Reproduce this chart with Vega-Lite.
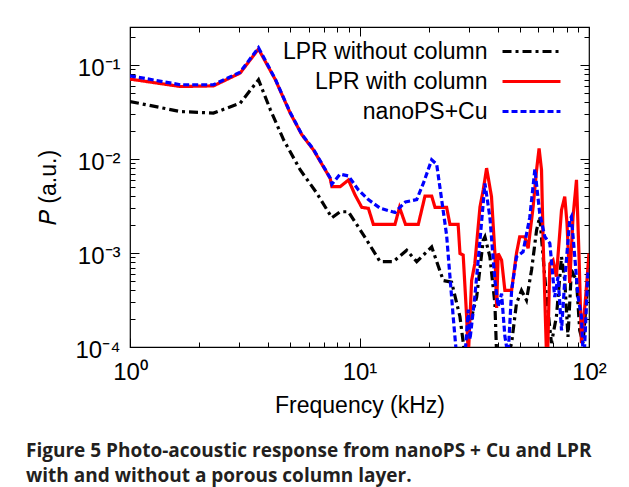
{
  "$schema": "https://vega.github.io/schema/vega-lite/v6.json",
  "width": 459,
  "height": 320,
  "autosize": {"type": "none"},
  "padding": {"left": 130, "top": 27, "right": 40, "bottom": 140},
  "background": "white",
  "config": {
    "view": {"stroke": "#000", "strokeWidth": 1.2},
    "font": "Liberation Sans",
    "legend": {
      "orient": "none",
      "legendX": 390,
      "legendY": 13,
      "title": null,
      "padding": 0,
      "symbolType": "M-4,0H4",
      "symbolSize": 210,
      "symbolStrokeWidth": 3,
      "labelAlign": "right",
      "labelOffset": -55.5,
      "labelFontSize": 23,
      "labelFont": "Liberation Sans",
      "labelColor": "#000",
      "labelLimit": 400,
      "rowPadding": 6
    }
  },
  "title": {
    "text": ["Figure 5 Photo-acoustic response from nanoPS + Cu and LPR", "with and without a porous column layer."],
    "orient": "bottom",
    "anchor": "start",
    "frame": "group",
    "dx": -104,
    "offset": 25,
    "font": "Open Sans",
    "fontSize": 19,
    "fontWeight": "bold",
    "color": "#231f20",
    "lineHeight": 25
  },
  "data": {
    "values": [
      {"s": "LPR without column", "f": 1.0, "p": 0.0409},
      {"s": "LPR without column", "f": 1.66, "p": 0.032},
      {"s": "LPR without column", "f": 2.31, "p": 0.0308},
      {"s": "LPR without column", "f": 3.02, "p": 0.0393},
      {"s": "LPR without column", "f": 3.63, "p": 0.0697},
      {"s": "LPR without column", "f": 4.09, "p": 0.0334},
      {"s": "LPR without column", "f": 4.67, "p": 0.016},
      {"s": "LPR without column", "f": 5.52, "p": 0.00765},
      {"s": "LPR without column", "f": 6.52, "p": 0.00432},
      {"s": "LPR without column", "f": 7.58, "p": 0.00237},
      {"s": "LPR without column", "f": 8.23, "p": 0.00275},
      {"s": "LPR without column", "f": 8.95, "p": 0.00275},
      {"s": "LPR without column", "f": 10.76, "p": 0.00137},
      {"s": "LPR without column", "f": 12.29, "p": 0.00081},
      {"s": "LPR without column", "f": 14.05, "p": 0.00081},
      {"s": "LPR without column", "f": 16.06, "p": 0.00107},
      {"s": "LPR without column", "f": 17.75, "p": 0.00081},
      {"s": "LPR without column", "f": 20.63, "p": 0.00116},
      {"s": "LPR without column", "f": 23.17, "p": 0.00051},
      {"s": "LPR without column", "f": 25.2, "p": 0.00049},
      {"s": "LPR without column", "f": 27.4, "p": 0.00021},
      {"s": "LPR without column", "f": 28.8, "p": 0.00008},
      {"s": "LPR without column", "f": 30.8, "p": 0.00021},
      {"s": "LPR without column", "f": 32.4, "p": 0.00034},
      {"s": "LPR without column", "f": 34.6, "p": 0.00137},
      {"s": "LPR without column", "f": 35.2, "p": 0.00149},
      {"s": "LPR without column", "f": 37.0, "p": 0.00091},
      {"s": "LPR without column", "f": 38.9, "p": 0.00029},
      {"s": "LPR without column", "f": 39.6, "p": 0.00008},
      {"s": "LPR without column", "f": 44.4, "p": 0.00008},
      {"s": "LPR without column", "f": 46.0, "p": 0.00011},
      {"s": "LPR without column", "f": 48.3, "p": 0.00029},
      {"s": "LPR without column", "f": 50.8, "p": 0.0004},
      {"s": "LPR without column", "f": 53.4, "p": 0.000315},
      {"s": "LPR without column", "f": 56.2, "p": 0.00066},
      {"s": "LPR without column", "f": 59.1, "p": 0.00175},
      {"s": "LPR without column", "f": 61.0, "p": 0.00243},
      {"s": "LPR without column", "f": 63.1, "p": 0.00091},
      {"s": "LPR without column", "f": 65.3, "p": 0.00034},
      {"s": "LPR without column", "f": 68.6, "p": 0.00011},
      {"s": "LPR without column", "f": 72.1, "p": 0.00021},
      {"s": "LPR without column", "f": 75.9, "p": 0.00091},
      {"s": "LPR without column", "f": 78.4, "p": 0.00051},
      {"s": "LPR without column", "f": 81.0, "p": 0.000128},
      {"s": "LPR without column", "f": 83.8, "p": 0.00066},
      {"s": "LPR without column", "f": 88.2, "p": 0.00051},
      {"s": "LPR without column", "f": 91.1, "p": 0.00015},
      {"s": "LPR without column", "f": 94.2, "p": 0.00011},
      {"s": "LPR without column", "f": 99.0, "p": 0.00051},
      {"s": "LPR without column", "f": 100, "p": 0.0005},

      {"s": "LPR with column", "f": 1.0, "p": 0.0709},
      {"s": "LPR with column", "f": 1.66, "p": 0.0591},
      {"s": "LPR with column", "f": 2.31, "p": 0.06},
      {"s": "LPR with column", "f": 3.02, "p": 0.0822},
      {"s": "LPR with column", "f": 3.63, "p": 0.148},
      {"s": "LPR with column", "f": 4.3, "p": 0.0697},
      {"s": "LPR with column", "f": 4.99, "p": 0.0308},
      {"s": "LPR with column", "f": 5.61, "p": 0.0181},
      {"s": "LPR with column", "f": 6.3, "p": 0.0125},
      {"s": "LPR with column", "f": 7.45, "p": 0.00624},
      {"s": "LPR with column", "f": 7.58, "p": 0.00508},
      {"s": "LPR with column", "f": 8.23, "p": 0.00508},
      {"s": "LPR with column", "f": 8.95, "p": 0.00599},
      {"s": "LPR with column", "f": 9.57, "p": 0.00414},
      {"s": "LPR with column", "f": 10.23, "p": 0.00306},
      {"s": "LPR with column", "f": 10.93, "p": 0.00299},
      {"s": "LPR with column", "f": 11.49, "p": 0.00202},
      {"s": "LPR with column", "f": 14.28, "p": 0.00202},
      {"s": "LPR with column", "f": 14.94, "p": 0.00306},
      {"s": "LPR with column", "f": 15.86, "p": 0.00202},
      {"s": "LPR with column", "f": 18.04, "p": 0.00202},
      {"s": "LPR with column", "f": 19.29, "p": 0.00404},
      {"s": "LPR with column", "f": 20.63, "p": 0.00404},
      {"s": "LPR with column", "f": 21.33, "p": 0.00306},
      {"s": "LPR with column", "f": 23.97, "p": 0.00306},
      {"s": "LPR with column", "f": 24.78, "p": 0.00202},
      {"s": "LPR with column", "f": 26.9, "p": 0.00202},
      {"s": "LPR with column", "f": 27.4, "p": 0.00099},
      {"s": "LPR with column", "f": 28.3, "p": 0.00095},
      {"s": "LPR with column", "f": 29.3, "p": 0.00021},
      {"s": "LPR with column", "f": 29.8, "p": 0.00008},
      {"s": "LPR with column", "f": 30.8, "p": 0.00051},
      {"s": "LPR with column", "f": 31.8, "p": 0.00077},
      {"s": "LPR with column", "f": 33.5, "p": 0.0031},
      {"s": "LPR with column", "f": 34.6, "p": 0.00468},
      {"s": "LPR with column", "f": 35.8, "p": 0.008},
      {"s": "LPR with column", "f": 37.6, "p": 0.00397},
      {"s": "LPR with column", "f": 38.9, "p": 0.00099},
      {"s": "LPR with column", "f": 39.6, "p": 0.00026},
      {"s": "LPR with column", "f": 40.2, "p": 0.00099},
      {"s": "LPR with column", "f": 41.6, "p": 0.00084},
      {"s": "LPR with column", "f": 43.0, "p": 0.0004},
      {"s": "LPR with column", "f": 46.0, "p": 0.0004},
      {"s": "LPR with column", "f": 48.3, "p": 0.00099},
      {"s": "LPR with column", "f": 49.9, "p": 0.00149},
      {"s": "LPR with column", "f": 52.5, "p": 0.00149},
      {"s": "LPR with column", "f": 54.3, "p": 0.00112},
      {"s": "LPR with column", "f": 57.1, "p": 0.00311},
      {"s": "LPR with column", "f": 59.1, "p": 0.00765},
      {"s": "LPR with column", "f": 60.6, "p": 0.013},
      {"s": "LPR with column", "f": 62.1, "p": 0.00765},
      {"s": "LPR with column", "f": 63.1, "p": 0.00137},
      {"s": "LPR with column", "f": 65.3, "p": 0.00008},
      {"s": "LPR with column", "f": 66.0, "p": 0.00008},
      {"s": "LPR with column", "f": 67.5, "p": 0.00077},
      {"s": "LPR with column", "f": 69.7, "p": 0.00084},
      {"s": "LPR with column", "f": 72.1, "p": 0.00056},
      {"s": "LPR with column", "f": 75.9, "p": 0.00287},
      {"s": "LPR with column", "f": 78.4, "p": 0.00397},
      {"s": "LPR with column", "f": 80.2, "p": 0.00207},
      {"s": "LPR with column", "f": 82.4, "p": 0.00048},
      {"s": "LPR with column", "f": 85.2, "p": 0.00243},
      {"s": "LPR with column", "f": 88.2, "p": 0.006},
      {"s": "LPR with column", "f": 90.5, "p": 0.00091},
      {"s": "LPR with column", "f": 92.7, "p": 0.00011},
      {"s": "LPR with column", "f": 96.7, "p": 0.00034},
      {"s": "LPR with column", "f": 100, "p": 0.00099},

      {"s": "nanoPS+Cu", "f": 1.0, "p": 0.0769},
      {"s": "nanoPS+Cu", "f": 1.66, "p": 0.0617},
      {"s": "nanoPS+Cu", "f": 2.31, "p": 0.0617},
      {"s": "nanoPS+Cu", "f": 3.02, "p": 0.084},
      {"s": "nanoPS+Cu", "f": 3.63, "p": 0.153},
      {"s": "nanoPS+Cu", "f": 4.3, "p": 0.0705},
      {"s": "nanoPS+Cu", "f": 4.99, "p": 0.0312},
      {"s": "nanoPS+Cu", "f": 5.61, "p": 0.0183},
      {"s": "nanoPS+Cu", "f": 6.3, "p": 0.0127},
      {"s": "nanoPS+Cu", "f": 7.45, "p": 0.0063},
      {"s": "nanoPS+Cu", "f": 7.58, "p": 0.0054},
      {"s": "nanoPS+Cu", "f": 8.23, "p": 0.0069},
      {"s": "nanoPS+Cu", "f": 8.95, "p": 0.0066},
      {"s": "nanoPS+Cu", "f": 9.89, "p": 0.0047},
      {"s": "nanoPS+Cu", "f": 10.93, "p": 0.0037},
      {"s": "nanoPS+Cu", "f": 12.29, "p": 0.003},
      {"s": "nanoPS+Cu", "f": 14.28, "p": 0.0027},
      {"s": "nanoPS+Cu", "f": 15.86, "p": 0.0035},
      {"s": "nanoPS+Cu", "f": 17.75, "p": 0.0037},
      {"s": "nanoPS+Cu", "f": 18.97, "p": 0.0055},
      {"s": "nanoPS+Cu", "f": 20.63, "p": 0.0098},
      {"s": "nanoPS+Cu", "f": 21.69, "p": 0.0088},
      {"s": "nanoPS+Cu", "f": 22.8, "p": 0.0037},
      {"s": "nanoPS+Cu", "f": 23.97, "p": 0.00154},
      {"s": "nanoPS+Cu", "f": 25.6, "p": 0.00021},
      {"s": "nanoPS+Cu", "f": 26.5, "p": 0.00008},
      {"s": "nanoPS+Cu", "f": 28.8, "p": 0.00008},
      {"s": "nanoPS+Cu", "f": 29.8, "p": 0.00025},
      {"s": "nanoPS+Cu", "f": 30.3, "p": 0.00012},
      {"s": "nanoPS+Cu", "f": 31.8, "p": 0.00034},
      {"s": "nanoPS+Cu", "f": 33.5, "p": 0.00137},
      {"s": "nanoPS+Cu", "f": 35.2, "p": 0.0055},
      {"s": "nanoPS+Cu", "f": 37.0, "p": 0.0024},
      {"s": "nanoPS+Cu", "f": 38.9, "p": 0.00051},
      {"s": "nanoPS+Cu", "f": 40.2, "p": 0.00027},
      {"s": "nanoPS+Cu", "f": 41.6, "p": 0.00037},
      {"s": "nanoPS+Cu", "f": 43.0, "p": 0.00013},
      {"s": "nanoPS+Cu", "f": 44.4, "p": 0.00008},
      {"s": "nanoPS+Cu", "f": 46.0, "p": 0.0004},
      {"s": "nanoPS+Cu", "f": 48.3, "p": 0.00091},
      {"s": "nanoPS+Cu", "f": 51.6, "p": 0.00103},
      {"s": "nanoPS+Cu", "f": 55.2, "p": 0.0024},
      {"s": "nanoPS+Cu", "f": 58.1, "p": 0.0078},
      {"s": "nanoPS+Cu", "f": 61.0, "p": 0.00264},
      {"s": "nanoPS+Cu", "f": 64.2, "p": 0.00149},
      {"s": "nanoPS+Cu", "f": 67.5, "p": 0.00127},
      {"s": "nanoPS+Cu", "f": 70.9, "p": 0.00034},
      {"s": "nanoPS+Cu", "f": 73.3, "p": 0.00056},
      {"s": "nanoPS+Cu", "f": 75.9, "p": 0.00015},
      {"s": "nanoPS+Cu", "f": 78.4, "p": 0.00051},
      {"s": "nanoPS+Cu", "f": 82.4, "p": 0.00224},
      {"s": "nanoPS+Cu", "f": 83.8, "p": 0.00243},
      {"s": "nanoPS+Cu", "f": 86.7, "p": 0.00091},
      {"s": "nanoPS+Cu", "f": 89.6, "p": 0.00034},
      {"s": "nanoPS+Cu", "f": 92.7, "p": 0.00021},
      {"s": "nanoPS+Cu", "f": 94.8, "p": 0.00006},
      {"s": "nanoPS+Cu", "f": 99.0, "p": 0.00066},
      {"s": "nanoPS+Cu", "f": 100, "p": 0.00066}
    ]
  },
  "layer": [
    {
      "mark": {"type": "line", "clip": true, "strokeWidth": 3.2},
      "encoding": {
        "x": {
          "field": "f", "type": "quantitative",
          "scale": {"type": "log", "domain": [1, 100], "nice": false},
          "axis": {
            "orient": "bottom",
            "values": [1, 2, 3, 4, 5, 6, 7, 8, 9, 10, 20, 30, 40, 50, 60, 70, 80, 90, 100],
            "labelExpr": "datum.value == 1 ? '10⁰' : datum.value == 10 ? '10¹' : datum.value == 100 ? '10²' : ''",
            "tickSize": {"condition": {"test": "datum.value == 1 || datum.value == 10 || datum.value == 100", "value": -9}, "value": -5},
            "tickColor": "#000", "tickWidth": 1, "domain": false, "grid": false,
            "labelFontSize": 24, "labelColor": "#000", "labelPadding": 22,
            "labelOverlap": false, "labelFlush": false, "labelBound": false,
            "title": "Frequency (kHz)", "titleFontSize": 23, "titleFontWeight": "normal",
            "titleColor": "#000", "titlePadding": 6
          }
        },
        "y": {
          "field": "p", "type": "quantitative",
          "scale": {"type": "log", "domain": [0.0001, 0.254], "nice": false},
          "axis": {
            "orient": "left",
            "values": [0.0001, 0.0002, 0.0003, 0.0004, 0.0005, 0.0006, 0.0007, 0.0008, 0.0009, 0.001, 0.002, 0.003, 0.004, 0.005, 0.006, 0.007, 0.008, 0.009, 0.01, 0.02, 0.03, 0.04, 0.05, 0.06, 0.07, 0.08, 0.09, 0.1, 0.2],
            "labelExpr": "datum.value == 0.1 ? '10⁻¹' : datum.value == 0.01 ? '10⁻²' : datum.value == 0.001 ? '10⁻³' : datum.value == 0.0001 ? '10⁻⁴' : ''",
            "tickSize": {"condition": {"test": "datum.value == 0.1 || datum.value == 0.01 || datum.value == 0.001 || datum.value == 0.0001", "value": -9}, "value": -5},
            "tickColor": "#000", "tickWidth": 1, "domain": false, "grid": false,
            "labelFontSize": 24, "labelColor": "#000", "labelPadding": 19, "labelOffset": 3,
            "labelOverlap": false, "labelFlush": false, "labelBound": false,
            "title": "𝑃 (a.u.)", "titleFontSize": 23, "titleFontWeight": "normal",
            "titleColor": "#000", "titlePadding": 14
          }
        },
        "color": {
          "field": "s", "type": "nominal",
          "scale": {"domain": ["LPR without column", "LPR with column", "nanoPS+Cu"], "range": ["#000000", "#ff0000", "#0000ff"]}
        },
        "strokeDash": {
          "field": "s", "type": "nominal",
          "scale": {"domain": ["LPR without column", "LPR with column", "nanoPS+Cu"], "range": [[9, 4, 3, 4], [1, 0], [6, 3]]}
        }
      }
    },
    {
      "mark": {"type": "line", "opacity": 0},
      "encoding": {
        "x": {
          "field": "f", "type": "quantitative",
          "scale": {"type": "log", "domain": [1, 100], "nice": false},
          "axis": {
            "orient": "top", "labels": false, "title": null, "domain": false, "grid": false,
            "values": [1, 2, 3, 4, 5, 6, 7, 8, 9, 10, 20, 30, 40, 50, 60, 70, 80, 90, 100],
            "tickSize": {"condition": {"test": "datum.value == 1 || datum.value == 10 || datum.value == 100", "value": -9}, "value": -5},
            "tickColor": "#000", "tickWidth": 1
          }
        },
        "y": {
          "field": "p", "type": "quantitative",
          "scale": {"type": "log", "domain": [0.0001, 0.254], "nice": false},
          "axis": {
            "orient": "right", "labels": false, "title": null, "domain": false, "grid": false,
            "values": [0.0001, 0.0002, 0.0003, 0.0004, 0.0005, 0.0006, 0.0007, 0.0008, 0.0009, 0.001, 0.002, 0.003, 0.004, 0.005, 0.006, 0.007, 0.008, 0.009, 0.01, 0.02, 0.03, 0.04, 0.05, 0.06, 0.07, 0.08, 0.09, 0.1, 0.2],
            "tickSize": {"condition": {"test": "datum.value == 0.1 || datum.value == 0.01 || datum.value == 0.001 || datum.value == 0.0001", "value": -9}, "value": -5},
            "tickColor": "#000", "tickWidth": 1
          }
        },
        "detail": {"field": "s", "type": "nominal"}
      }
    }
  ],
  "resolve": {"axis": {"x": "independent", "y": "independent"}}
}
